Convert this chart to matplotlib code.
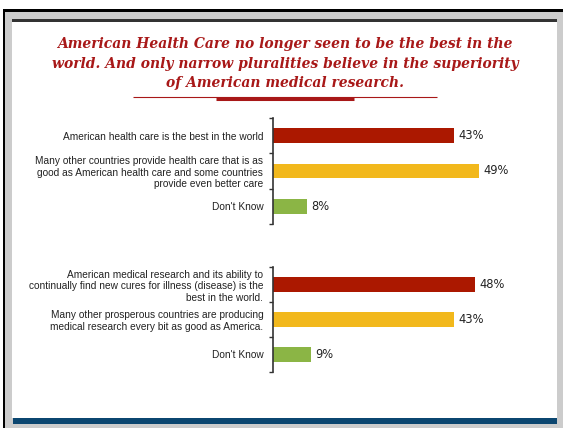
import matplotlib.pyplot as plt
from matplotlib.patches import Rectangle

# survey answers, two questions with three answers each
health_labels = [
    "American health care is the best in the world",
    "Many other countries provide health care that is as\ngood as American health care and some countries\nprovide even better care",
    "Don't Know",
]
health_values = [43, 49, 8]

research_labels = [
    "American medical research and its ability to\ncontinually find new cures for illness (disease) is the\nbest in the world.",
    "Many other prosperous countries are producing\nmedical research every bit as good as America.",
    "Don't Know",
]
research_values = [48, 43, 9]

bar_colors = ["#ab1800", "#f2b81c", "#8bb545"]
title_red = "#a81818"

W, H = 563, 428
fig = plt.figure(figsize=(W / 100, H / 100), dpi=100)
fig.patch.set_facecolor("white")

# frame drawn in pixel space
bg = fig.add_axes([0, 0, 1, 1])
bg.set_xlim(0, W)
bg.set_ylim(H, 0)
bg.axis("off")
bg.add_patch(Rectangle((3, 9), W - 3, H - 9, color="#cccccc", lw=0))
bg.add_patch(Rectangle((3, 9), W - 3, 2.5, color="black", lw=0))
bg.add_patch(Rectangle((3, 9), 2.2, H - 9, color="black", lw=0))
bg.add_patch(Rectangle((12, 21), 545, 397, color="white", lw=0))
bg.add_patch(Rectangle((12, 19), 545, 2.5, color="#333333", lw=0))
bg.add_patch(Rectangle((13, 418), 544, 6, color="#0b4670", lw=0))

# title and its underline
bg.text(285, 63.5, "American Health Care no longer seen to be the best in the\n"
        "world. And only narrow pluralities believe in the superiority\n"
        "of American medical research.",
        ha="center", va="center", family="DejaVu Serif", style="italic",
        weight="bold", fontsize=10, color=title_red, linespacing=1.48)
bg.plot([133, 437], [97.3, 97.3], color=title_red, lw=0.8, solid_capstyle="butt")
bg.plot([216, 354], [98.5, 98.5], color=title_red, lw=2.2, solid_capstyle="butt")

px_per_pct = 4.21
ax_left = 273 / W
ax_width = 60 * px_per_pct / W


def draw_group(top, bottom, labels, values):
    ax = fig.add_axes([ax_left, 1 - bottom / H, ax_width, (bottom - top) / H])
    pos = list(range(len(values)))
    ax.barh(pos, values, height=0.41, color=bar_colors)
    for y, v in zip(pos, values):
        ax.text(v + 1.0, y, f"{v}%", va="center", ha="left", fontsize=8.3,
                family="DejaVu Sans", color="#222222")
    ax.set_xlim(0, 60)
    ax.set_ylim(len(values) - 0.5, -0.5)
    for side in ["top", "right", "bottom"]:
        ax.spines[side].set_visible(False)
    ax.spines["left"].set_color("#333333")
    ax.spines["left"].set_linewidth(1.2)
    ax.set_xticks([])
    ax.set_yticks(pos)
    ax.set_yticklabels(labels, fontsize=7.3, family="Liberation Sans",
                       color="#222222", linespacing=1.2)
    ax.tick_params(axis="y", which="major", length=0, pad=7)
    ax.set_yticks([p - 0.5 for p in pos] + [len(values) - 0.5], minor=True)
    ax.tick_params(axis="y", which="minor", length=3, width=1.0,
                   color="#333333", direction="out")
    ax.patch.set_alpha(0)
    return ax


draw_group(118, 224, health_labels, health_values)
draw_group(267, 372, research_labels, research_values)

fig.savefig("out.png", dpi=100)
